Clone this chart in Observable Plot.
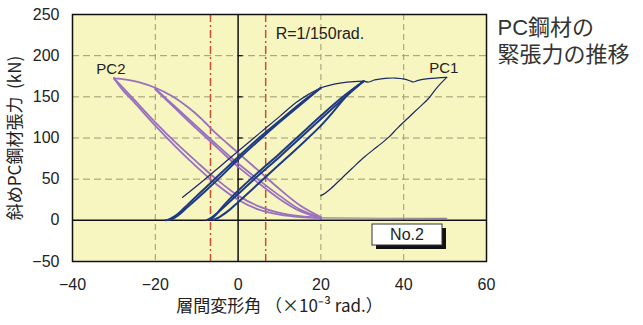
<!DOCTYPE html>
<html><head><meta charset="utf-8">
<script src="https://cdn.jsdelivr.net/npm/d3@7"></script>
<script src="https://cdn.jsdelivr.net/npm/@observablehq/plot@0.6"></script>
<style>body{margin:0;background:#fff}</style>
</head><body><div id="chart"></div>
<script>
// ---- axes / reference values ----
const xTicks = [-40, -20, 0, 20, 40, 60];
const yTicks = [-50, 0, 50, 100, 150, 200, 250];
const xGrid = [-20, 20, 40];
const yGrid = [50, 100, 150, 200];
const limitDrift = [-1000 / 150, 1000 / 150];   // R = 1/150 rad.
const titleLines = ["PC鋼材の", "緊張力の推移"];
const rLabel = "R=1/150rad.";
const xLabel = "層間変形角 （×10⁻³ rad.）";
const yLabel = "斜めPC鋼材張力  (kN)";
const specimen = "No.2";

// ---- PC1 (drift x, tension y) ----
const pc1Start = [[-13.4,28],[-8,50],[-4,67],[0,84],[5,105],[10,126],[14,143],[17,153],[20,161]];
const pc1LoadA = [[-17.5,0],[-16,1.5],[-14.5,6],[-12,17],[-8,35],[-4,54],[0,74],[5,97],[10,119],[15,140],[20,161]];
const pc1UnloadA = [[20,161],[15,142],[10,121],[5,100],[0,77],[-4,58],[-8,39],[-12,20],[-14.5,8],[-16,3],[-17,0.5]];
const pc1TopA = [[20,161],[22,164],[25,167],[28,168.5],[30.3,169]];
const pc1UnloadB = [[30.3,169],[25,146],[20,123],[15,100],[10,77],[5,55],[0,32],[-3,18],[-5,9],[-6.5,3],[-7.5,0.5]];
const pc1LoadB = [[-6,0.5],[-4.5,4],[-2,13],[0,22],[5,45],[10,68],[15,91],[20,115],[23,132],[26,150],[28,160],[30.3,169]];
const pc1UnloadB2 = [[30.3,169],[25,149],[20,127],[15,104],[10,81],[5,59],[0,36],[-2,26],[-4,15],[-5.5,6],[-6.5,1]];
const pc1TopB = [[30.3,169],[31.5,168],[33,170.5],[35.5,172.4],[38,172.8],[40.2,171.5],[41.5,169.5],[42.3,168],[43.5,170],[46,172],[50.4,173.6]];
const pc1UnloadC = [[50.4,173.6],[48,161],[46,148],[43.5,136],[41,124],[38.5,112],[36.4,101],[33.5,89],[30.5,77],[27.5,63],[25,51],[22.5,39],[21,33],[20,30]];

// ---- PC2 ----
const pc2Tip1 = [[-30,172.5],[-28,162],[-25,146],[-20,119],[-15,94],[-10,71],[-5,49],[0,30],[5,17],[10,9],[15,5],[20,3]];
const pc2Tip2 = [[-30,172.5],[-28,159],[-25,143],[-20,115],[-15,89],[-10,65],[-5,43],[0,25],[5,13],[10,7],[15,4],[20,3]];
const pc2Top = [[-30,172.5],[-27,171],[-24,168],[-20,161],[-16,151],[-12,137],[-9,124],[-5,104],[0,82],[5,60],[10,38],[15,18],[20,4]];
const pc2BandA = [[-20,160],[-15,137],[-10,114],[-5,91],[0,69],[5,49],[10,30],[15,13],[20,3]];
const pc2BandB = [[-20,159],[-15,135],[-10,111],[-5,88],[0,65],[5,45],[10,26],[15,11],[20,3]];
const pc2Slack = [[20,3],[35,2.5],[50.4,2.5]];

function rows(series, seg, pts) { return pts.map(([x, y]) => ({series, seg, x, y})); }
const pc1Thick = [
  ...rows("PC1","loadA",pc1LoadA), ...rows("PC1","unloadA",pc1UnloadA),
  ...rows("PC1","unloadB",pc1UnloadB), ...rows("PC1","loadB",pc1LoadB), ...rows("PC1","unloadB2",pc1UnloadB2)
];
const pc1Thin = [
  ...rows("PC1","start",pc1Start), ...rows("PC1","topA",pc1TopA),
  ...rows("PC1","topB",pc1TopB), ...rows("PC1","unloadC",pc1UnloadC)
];
const pc2Main = [
  ...rows("PC2","tip1",pc2Tip1), ...rows("PC2","tip2",pc2Tip2), ...rows("PC2","top",pc2Top),
  ...rows("PC2","bandA",pc2BandA), ...rows("PC2","bandB",pc2BandB)
];
const pc2Thin = rows("PC2","slack",pc2Slack);

const peakOf = arr => arr.reduce((a, b) => (b.y > a.y ? b : a));
const labels = [
  {...peakOf([...pc1Thick, ...pc1Thin]), label: "PC1"},
  {...peakOf(pc2Main), label: "PC2"}
];

const W = 643, H = 325, mL = 72, mR = 157, mT = 14, mB = 64;
const cjk = "'Noto Sans CJK JP', sans-serif";
const mixed = "'Liberation Sans', 'Noto Sans CJK JP', sans-serif";

const chart = Plot.plot({
  width: W, height: H,
  marginLeft: mL, marginRight: mR, marginTop: mT, marginBottom: mB,
  style: {fontFamily: "'Liberation Sans', Arial, 'Noto Sans CJK JP', sans-serif", fontSize: "16px", color: "#222", background: "#fff"},
  x: {domain: [-40, 60], ticks: xTicks, tickSize: 0, tickPadding: 17, label: null},
  y: {domain: [-50, 250], ticks: yTicks, tickSize: 0, tickPadding: 13, label: null},
  marks: [
    Plot.frame({fill: "#f7f5c0", stroke: null}),
    Plot.ruleX(xGrid, {stroke: "#9c9a72", strokeWidth: 1, strokeDasharray: "6,4"}),
    Plot.ruleY(yGrid, {stroke: "#9c9a72", strokeWidth: 1, strokeDasharray: "7,4"}),
    Plot.ruleX(limitDrift, {stroke: "#c8502e", strokeWidth: 1.5, strokeDasharray: "8,3,2,3"}),
    Plot.ruleX([0], {stroke: "#111", strokeWidth: 1.5}),
    Plot.ruleY([0], {stroke: "#111", strokeWidth: 1.5}),
    Plot.ruleY(yGrid, {x1: 0, x2: 1.2, stroke: "#111", strokeWidth: 1.2}),
    Plot.line(pc2Thin, {x: "x", y: "y", z: "seg", stroke: "#8a7f99", strokeWidth: 1.2}),
    Plot.line(pc2Main, {x: "x", y: "y", z: "seg", stroke: "#9a6fc0", strokeWidth: 1.8, curve: "catmull-rom"}),
    Plot.line(pc1Thin, {x: "x", y: "y", z: "seg", stroke: "#1b2a66", strokeWidth: 1.2, curve: "catmull-rom"}),
    Plot.line(pc1Thick, {x: "x", y: "y", z: "seg", stroke: "#1d3a82", strokeWidth: 2, curve: "catmull-rom"}),
    Plot.frame({stroke: "#111", strokeWidth: 1.5}),
    Plot.text(labels, {x: "x", y: "y", text: "label", dx: -3, dy: -9, fontSize: 15, fill: "#222"}),
    Plot.text([rLabel], {x: limitDrift[1], frameAnchor: "top", dx: 10, dy: 13, textAnchor: "start", lineAnchor: "top", fontSize: 16, fill: "#222"}),
    Plot.text([titleLines[0]], {frameAnchor: "top-right", dx: 11, dy: 5, textAnchor: "start", lineAnchor: "top", fontSize: 22, fill: "#333", fontFamily: mixed}),
    Plot.text([titleLines[1]], {frameAnchor: "top-right", dx: 11, dy: 32, textAnchor: "start", lineAnchor: "top", fontSize: 22, fill: "#333", fontFamily: mixed}),
    Plot.text([yLabel], {frameAnchor: "left", rotate: -90, dx: -57, textAnchor: "middle", fontSize: 17, fill: "#222", fontFamily: cjk}),
    Plot.text([xLabel], {frameAnchor: "bottom", dy: 50, textAnchor: "middle", fontSize: 17, fill: "#222", fontFamily: cjk})
  ]
});
document.getElementById("chart").appendChild(chart);

// specimen tag box (layout annotation inside the frame, bottom-right)
const svg = d3.select(chart);
const bx = W - mR - 114, by = H - mB - 37, bw = 70, bh = 21;
const g = svg.append("g");
g.append("rect").attr("x", bx + 4).attr("y", by + 4).attr("width", bw).attr("height", bh).attr("fill", "#111");
g.append("rect").attr("x", bx).attr("y", by).attr("width", bw).attr("height", bh).attr("fill", "#fff").attr("stroke", "#333").attr("stroke-width", 1);
g.append("text").attr("x", bx + bw / 2).attr("y", by + bh / 2).attr("dy", "0.36em").attr("text-anchor", "middle")
  .attr("font-size", 16).attr("fill", "#222").text(specimen);
</script>
</body></html>
